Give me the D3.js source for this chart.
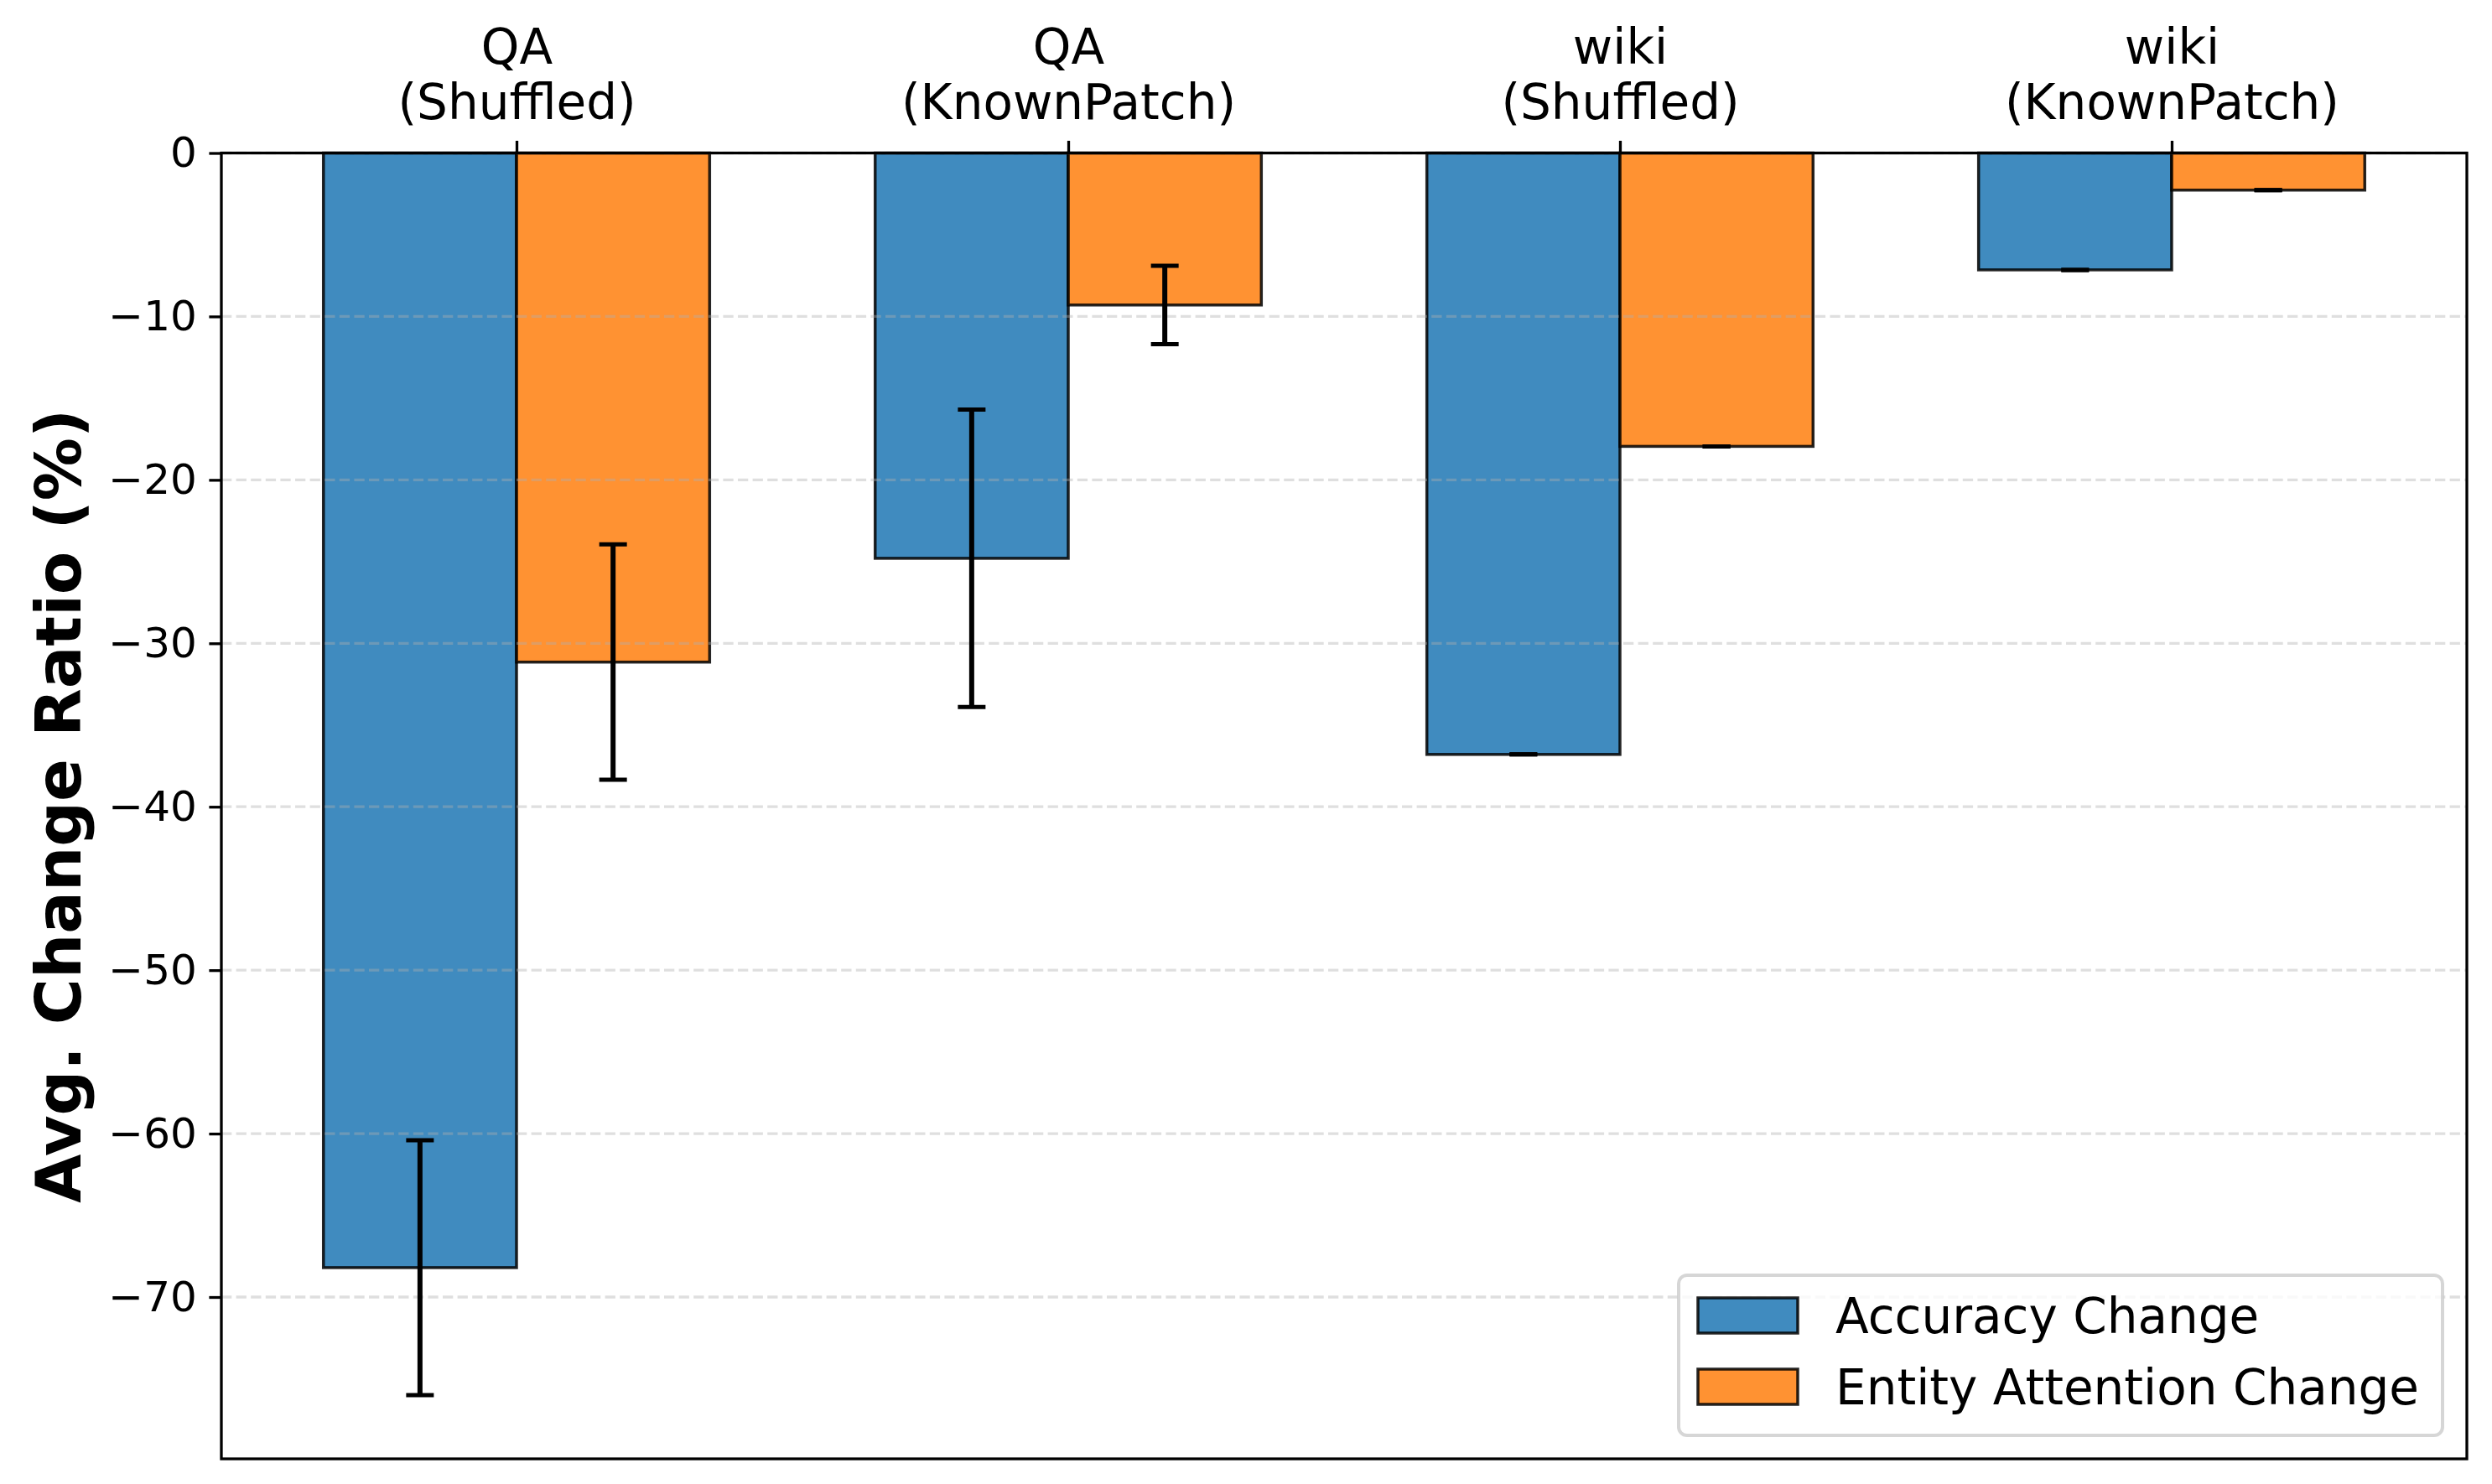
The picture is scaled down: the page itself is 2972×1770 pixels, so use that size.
<!DOCTYPE html>
<html>
<head>
<meta charset="utf-8">
<script src="https://cdn.jsdelivr.net/npm/d3@7"></script>
<style>
    body { margin: 0; background: #fff; }
    text { font-family: "DejaVu Sans", sans-serif; fill: #000; }
</style>
</head>
<body>
<div id="chart_parent"></div>
<script>
const categories = ['QA\n(Shuffled)', 'QA\n(KnownPatch)', 'wiki\n(Shuffled)', 'wiki\n(KnownPatch)'];
const seriesNames = ['Accuracy Change', 'Entity Attention Change'];
const accuracyChange = [-68.2, -24.8, -36.8, -7.15];
const accuracyErr = [7.8, 9.1, 0, 0];
const entityChange = [-31.15, -9.3, -17.95, -2.27];
const entityErr = [7.2, 2.4, 0, 0];
const yTicks = [0, -10, -20, -30, -40, -50, -60, -70];

const chartConfig = {
    outerWidth: 2972,
    outerHeight: 1770,
    plot: { left: 264, right: 2942, top: 182.5, bottom: 1740 },
    xDomain: [-0.535, 3.535],
    yDomain: [-79.9, 0],
    barWidth: 0.35,
    colors: ['#1f77b4', '#ff7f0e'],
    tickFont: 50,
    catFont: 58,
    labelFont: 75,
    legendFont: 58,
    tickLen: 14.6,
};

function initialiseChartElements(rootSelector, config) {
    const svg = d3.select(rootSelector).append('svg')
        .attr('width', config.outerWidth)
        .attr('height', config.outerHeight);

    svg.append('rect')
        .attr('width', config.outerWidth)
        .attr('height', config.outerHeight)
        .attr('fill', '#fff');

    return {
        svg,
        barsGroup: svg.append('g').attr('class', 'bars'),
        gridGroup: svg.append('g').attr('class', 'grid'),
        errGroup: svg.append('g').attr('class', 'errors'),
        xAxisGroup: svg.append('g').attr('transform', `translate(0,${config.plot.top})`),
        yAxisGroup: svg.append('g').attr('transform', `translate(${config.plot.left},0)`),
        legendGroup: svg.append('g').attr('class', 'legend'),
    };
}

function updateChart(config, elements) {
    const { svg, barsGroup, gridGroup, errGroup, xAxisGroup, yAxisGroup, legendGroup } = elements;
    const p = config.plot;

    const xScale = d3.scaleLinear().domain(config.xDomain).range([p.left, p.right]);
    const yScale = d3.scaleLinear().domain(config.yDomain).range([p.bottom, p.top]);
    const bw = xScale(config.barWidth) - xScale(0);

    // flatten the two series into one list of bars
    const bars = [];
    [accuracyChange, entityChange].forEach((vals, s) => {
        const errs = s === 0 ? accuracyErr : entityErr;
        vals.forEach((v, i) => {
            bars.push({ s, i, v, err: errs[i], x: i + (s === 0 ? -0.5 : 0.5) * config.barWidth });
        });
    });

    barsGroup.selectAll('rect')
        .data(bars)
        .enter()
        .append('rect')
        .attr('x', d => xScale(d.x) - bw / 2)
        .attr('width', bw)
        .attr('y', yScale(0))
        .attr('height', d => yScale(d.v) - yScale(0))
        .attr('fill', d => config.colors[d.s])
        .attr('fill-opacity', 0.85)
        .attr('stroke', '#000')
        .attr('stroke-opacity', 0.85)
        .attr('stroke-width', 3.5);

    // dashed horizontal grid, drawn over the bars like matplotlib does
    gridGroup.selectAll('line')
        .data(yTicks)
        .enter()
        .append('line')
        .attr('x1', p.left)
        .attr('x2', p.right)
        .attr('y1', d => yScale(d))
        .attr('y2', d => yScale(d))
        .attr('stroke', '#b0b0b0')
        .attr('stroke-opacity', 0.4)
        .attr('stroke-width', 3.3)
        .attr('stroke-dasharray', '12.3,5.3');

    const capHalf = 16.5;
    const errs = errGroup.selectAll('g')
        .data(bars)
        .enter()
        .append('g')
        .attr('stroke', '#000')
        .attr('stroke-width', 6);
    errs.append('line')
        .attr('x1', d => xScale(d.x))
        .attr('x2', d => xScale(d.x))
        .attr('y1', d => yScale(d.v + d.err))
        .attr('y2', d => yScale(d.v - d.err));
    errs.append('line')
        .attr('x1', d => xScale(d.x) - capHalf)
        .attr('x2', d => xScale(d.x) + capHalf)
        .attr('y1', d => yScale(d.v + d.err))
        .attr('y2', d => yScale(d.v + d.err))
        .attr('stroke-width', 5);
    errs.append('line')
        .attr('x1', d => xScale(d.x) - capHalf)
        .attr('x2', d => xScale(d.x) + capHalf)
        .attr('y1', d => yScale(d.v - d.err))
        .attr('y2', d => yScale(d.v - d.err))
        .attr('stroke-width', 5);

    // y axis
    const yAxis = d3.axisLeft(yScale)
        .tickValues(yTicks)
        .tickFormat(d3.format('d'))
        .tickSize(config.tickLen)
        .tickPadding(config.tickLen);
    yAxisGroup.call(yAxis);
    yAxisGroup.select('.domain').remove();
    yAxisGroup.selectAll('line').attr('stroke-width', 3.3);
    yAxisGroup.selectAll('text')
        .attr('font-size', config.tickFont)
        .attr('font-family', 'DejaVu Sans');

    // category axis on top
    const xAxis = d3.axisTop(xScale)
        .tickValues(categories.map((c, i) => i))
        .tickFormat(i => categories[i])
        .tickSize(config.tickLen)
        .tickPadding(config.tickLen);
    xAxisGroup.call(xAxis);
    xAxisGroup.select('.domain').remove();
    xAxisGroup.selectAll('line').attr('stroke-width', 3.3);
    xAxisGroup.selectAll('text')
        .attr('font-size', config.catFont)
        .attr('font-family', 'DejaVu Sans')
        .each(function (i) {
            const lines = categories[i].split('\n');
            const t = d3.select(this).text(null).attr('dy', null);
            lines.forEach((line, k) => {
                t.append('tspan')
                    .attr('x', 0)
                    .attr('dy', k === 0 ? `${-(lines.length - 1) * 1.15 - 0.19}em` : '1.15em')
                    .text(line);
            });
        });

    // spines
    svg.append('rect')
        .attr('x', p.left)
        .attr('y', p.top)
        .attr('width', p.right - p.left)
        .attr('height', p.bottom - p.top)
        .attr('fill', 'none')
        .attr('stroke', '#000')
        .attr('stroke-width', 3.3);

    // y label
    svg.append('text')
        .attr('transform', `translate(70,${(p.top + p.bottom) / 2}) rotate(-90)`)
        .attr('text-anchor', 'middle')
        .attr('dy', '0.35em')
        .attr('font-size', config.labelFont)
        .attr('font-weight', 'bold')
        .text('Avg. Change Ratio (%)');

    // legend
    const lg = { x: 2002, y: 1521, w: 911, h: 191 };
    legendGroup.append('rect')
        .attr('x', lg.x)
        .attr('y', lg.y)
        .attr('width', lg.w)
        .attr('height', lg.h)
        .attr('rx', 10)
        .attr('fill', '#fff')
        .attr('fill-opacity', 0.8)
        .attr('stroke', '#cccccc')
        .attr('stroke-opacity', 0.8)
        .attr('stroke-width', 4);

    const items = legendGroup.selectAll('g.item')
        .data(seriesNames)
        .enter()
        .append('g')
        .attr('class', 'item')
        .attr('transform', (d, i) => `translate(${lg.x + 23},${lg.y + 27 + i * 85})`);
    items.append('rect')
        .attr('width', 119)
        .attr('height', 42)
        .attr('fill', (d, i) => config.colors[i])
        .attr('fill-opacity', 0.85)
        .attr('stroke', '#000')
        .attr('stroke-opacity', 0.85)
        .attr('stroke-width', 3.5);
    items.append('text')
        .attr('x', 164)
        .attr('y', 21)
        .attr('dy', '0.36em')
        .attr('font-size', config.legendFont)
        .text(d => d);
}

const chartElements = initialiseChartElements('#chart_parent', chartConfig);
updateChart(chartConfig, chartElements);
</script>
</body>
</html>
